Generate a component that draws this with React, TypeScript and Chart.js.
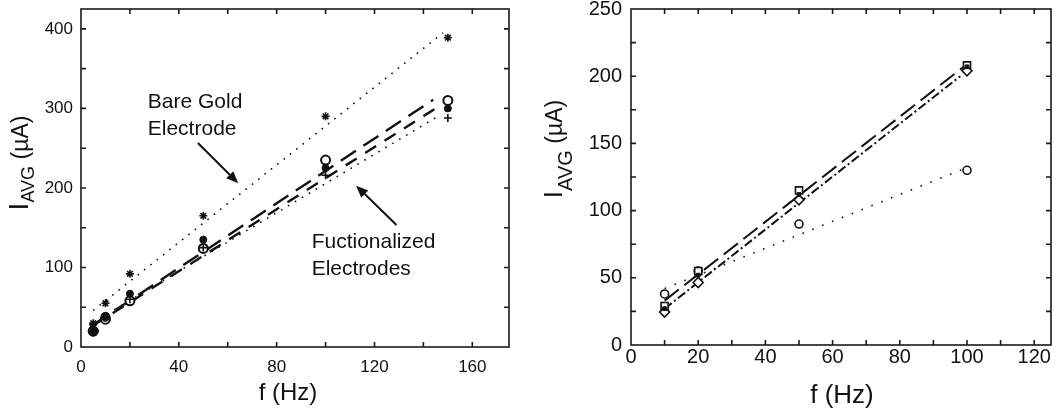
import { useEffect, useRef } from "react";
import { Chart, registerables } from "chart.js";

Chart.register(...registerables);

// ---------- Left panel data ----------
const leftFreq = [5, 10, 20, 50, 100, 150];
const bareGold = [30, 55, 92, 165, 290, 389];
const funcOpen = [20, 35, 58, 124, 235, 310];
const funcFilled = [20, 38, 67, 135, 225, 300];
const funcPlus = [28, 38, 60, 125, 216, 288];

const bareFitX = [5, 148];
const bareFitY = [46, 395];
const funcFitAX = [5, 144];
const funcFitAY = [28, 311];
const funcFitBX = [5, 146];
const funcFitBY = [27, 302];
const funcFitCX = [5, 147];
const funcFitCY = [31, 292];

const leftXLabels = [0, 40, 80, 120, 160];
const leftYLabels = [0, 100, 200, 300, 400];

// ---------- Right panel data ----------
const rightFreq = [10, 20, 50, 100];
const rSquare = [29, 55, 115, 208];
const rDiamond = [24.5, 46.5, 108, 204];
const rCircle = [38, 55, 90, 130];
const rFilled = [27, 52, 112, 207];

const rFitAX = [10, 99];
const rFitAY = [33, 207];
const rFitBX = [10, 98];
const rFitBY = [27, 200];
const rFitCX = [10, 99];
const rFitCY = [42, 131];

const rightXLabels = [0, 20, 40, 60, 80, 100, 120];
const rightYLabels = [0, 50, 100, 150, 200, 250];

// annotation layout (data units of left panel)
const leftTexts = [
  { text: "Bare Gold", x: 27.3, y: 300.5 },
  { text: "Electrode", x: 27.3, y: 266.5 },
  { text: "Fuctionalized", x: 94.3, y: 124.5 },
  { text: "Electrodes", x: 94.3, y: 90.5 },
];
const leftArrows = [
  { x1: 47.8, y1: 256.6, x2: 64.3, y2: 206.0 },
  { x1: 129.0, y1: 153.5, x2: 112.5, y2: 202.8 },
];

const FAMILY = "'Liberation Sans', Arial, Helvetica, sans-serif";
const INK = "#111";

const pts = (xs: number[], ys: number[]) => xs.map((x, i) => ({ x, y: ys[i] }));

function stepValues(last: number, step: number) {
  const out: number[] = [];
  for (let v = 0; v <= last + 1e-9; v += step) out.push(v);
  return out;
}

function drawYTitle(
  ctx: CanvasRenderingContext2D,
  baseX: number,
  centerY: number,
  s: { i: number; sub: number; main: number; shift: number }
) {
  ctx.save();
  ctx.translate(baseX, centerY);
  ctx.rotate(-Math.PI / 2);
  ctx.fillStyle = INK;
  ctx.textBaseline = "alphabetic";
  ctx.textAlign = "left";
  const fI = `${s.i}px ${FAMILY}`;
  const fS = `${s.sub}px ${FAMILY}`;
  const fM = `${s.main}px ${FAMILY}`;
  ctx.font = fI;
  const wI = ctx.measureText("I").width;
  ctx.font = fS;
  const wS = ctx.measureText("AVG").width;
  ctx.font = fM;
  const wM = ctx.measureText(" (µA)").width;
  let x = -(wI + wS + wM) / 2;
  ctx.font = fI;
  ctx.fillText("I", x, 0);
  x += wI;
  ctx.font = fS;
  ctx.fillText("AVG", x, s.shift);
  x += wS;
  ctx.font = fM;
  ctx.fillText(" (µA)", x, 0);
  ctx.restore();
}

function makeFramePlugin(cfg: {
  frameWidth: number;
  tickLen: number;
  yTitle: { baseX: number; centerY: number; i: number; sub: number; main: number; shift: number };
  xTitle: { cx: number; baseY: number; size: number };
  extra?: (chart: any) => void;
}) {
  return {
    id: "frameAndTitles",
    afterDatasetsDraw(chart: any) {
      const { ctx, chartArea: a, scales } = chart;
      const xs = scales.x;
      const ys = scales.y;
      ctx.save();
      ctx.strokeStyle = "#1a1a1a";
      ctx.lineWidth = cfg.frameWidth;
      ctx.strokeRect(a.left, a.top, a.right - a.left, a.bottom - a.top);
      ctx.beginPath();
      xs.ticks.forEach((t: any) => {
        const px = xs.getPixelForValue(t.value);
        if (px <= a.left + 1 || px >= a.right - 1) return;
        ctx.moveTo(px, a.bottom);
        ctx.lineTo(px, a.bottom - cfg.tickLen);
        ctx.moveTo(px, a.top);
        ctx.lineTo(px, a.top + cfg.tickLen);
      });
      ys.ticks.forEach((t: any) => {
        const py = ys.getPixelForValue(t.value);
        if (py <= a.top + 1 || py >= a.bottom - 1) return;
        ctx.moveTo(a.left, py);
        ctx.lineTo(a.left + cfg.tickLen, py);
        ctx.moveTo(a.right, py);
        ctx.lineTo(a.right - cfg.tickLen, py);
      });
      ctx.stroke();
      ctx.restore();

      drawYTitle(ctx, cfg.yTitle.baseX, cfg.yTitle.centerY, cfg.yTitle);

      ctx.save();
      ctx.fillStyle = INK;
      ctx.font = `${cfg.xTitle.size}px ${FAMILY}`;
      ctx.textAlign = "center";
      ctx.textBaseline = "alphabetic";
      ctx.fillText("f (Hz)", cfg.xTitle.cx, cfg.xTitle.baseY);
      ctx.restore();

      if (cfg.extra) cfg.extra(chart);
    },
  };
}

function drawLeftAnnotations(chart: any) {
  const { ctx, scales } = chart;
  const xs = scales.x;
  const ys = scales.y;
  ctx.save();
  ctx.fillStyle = INK;
  ctx.font = `21px ${FAMILY}`;
  ctx.textAlign = "left";
  ctx.textBaseline = "alphabetic";
  leftTexts.forEach((t) => {
    ctx.fillText(t.text, xs.getPixelForValue(t.x), ys.getPixelForValue(t.y));
  });
  ctx.strokeStyle = INK;
  ctx.lineWidth = 2;
  leftArrows.forEach((ar) => {
    const x1 = xs.getPixelForValue(ar.x1);
    const y1 = ys.getPixelForValue(ar.y1);
    const x2 = xs.getPixelForValue(ar.x2);
    const y2 = ys.getPixelForValue(ar.y2);
    const ang = Math.atan2(y2 - y1, x2 - x1);
    const hl = 12;
    const hw = 5;
    const bx = x2 - hl * Math.cos(ang);
    const by = y2 - hl * Math.sin(ang);
    ctx.beginPath();
    ctx.moveTo(x1, y1);
    ctx.lineTo(bx, by);
    ctx.stroke();
    ctx.beginPath();
    ctx.moveTo(x2, y2);
    ctx.lineTo(bx + hw * Math.sin(ang), by - hw * Math.cos(ang));
    ctx.lineTo(bx - hw * Math.sin(ang), by + hw * Math.cos(ang));
    ctx.closePath();
    ctx.fill();
  });
  ctx.restore();
}

function axisOpts(
  min: number,
  max: number,
  tickValues: number[],
  labels: number[],
  size: number,
  padding: number,
  fit: (s: any) => void
) {
  return {
    type: "linear" as const,
    min,
    max,
    afterBuildTicks: (s: any) => {
      s.ticks = tickValues.map((v) => ({ value: v }));
    },
    afterFit: fit,
    grid: { display: false, drawTicks: false },
    border: { display: false },
    ticks: {
      autoSkip: false,
      maxRotation: 0,
      padding,
      color: INK,
      font: { family: FAMILY, size },
      callback: (v: any) => (labels.includes(Number(v)) ? String(v) : ""),
    },
  };
}

function lineDs(xs: number[], ys: number[], dash: number[], width: number) {
  return {
    data: pts(xs, ys),
    showLine: true,
    borderColor: INK,
    borderWidth: width,
    borderDash: dash,
    pointRadius: 0,
    fill: false,
    order: 10,
  };
}

function LeftChart() {
  const ref = useRef<HTMLCanvasElement | null>(null);
  useEffect(() => {
    if (!ref.current) return;
    const chart = new Chart(ref.current, {
      type: "scatter",
      data: {
        datasets: [
          lineDs(bareFitX, bareFitY, [1.6, 6.5], 1.6),
          lineDs(funcFitAX, funcFitAY, [18, 9], 2.4),
          lineDs(funcFitBX, funcFitBY, [13, 10], 2.4),
          lineDs(funcFitCX, funcFitCY, [1.6, 6.5], 1.6),
          {
            data: pts(leftFreq, funcOpen),
            pointStyle: "circle",
            pointRadius: 4.5,
            borderWidth: 2,
            borderColor: INK,
            backgroundColor: "#fff",
            order: 5,
          },
          {
            data: pts(leftFreq, funcFilled),
            pointStyle: "circle",
            pointRadius: [5, 4.5, 3.5, 3.5, 3.5, 3.5],
            borderWidth: 1,
            borderColor: INK,
            backgroundColor: INK,
            order: 3,
          },
          {
            data: pts(leftFreq, funcPlus),
            pointStyle: "cross",
            pointRadius: 4,
            borderWidth: 1.6,
            borderColor: INK,
            order: 2,
          },
          {
            data: pts(leftFreq, bareGold),
            pointStyle: "star",
            pointRadius: 4,
            borderWidth: 1.6,
            borderColor: INK,
            order: 1,
          },
        ] as any,
      },
      options: {
        responsive: false,
        animation: false,
        events: [],
        layout: { padding: { top: 9, right: 21, left: 0, bottom: 0 } },
        plugins: { legend: { display: false }, tooltip: { enabled: false } },
        scales: {
          x: axisOpts(0, 175, stepValues(160, 20), leftXLabels, 17, 10, (s: any) => {
            s.height = 68;
            s.paddingLeft = 0;
            s.paddingRight = 0;
          }),
          y: axisOpts(0, 425, stepValues(400, 50), leftYLabels, 17, 8, (s: any) => {
            s.width = 81;
            s.paddingTop = 0;
            s.paddingBottom = 0;
          }),
        },
      } as any,
      plugins: [
        makeFramePlugin({
          frameWidth: 1.6,
          tickLen: 5,
          yTitle: { baseX: 28, centerY: 163, i: 28, sub: 18, main: 23, shift: 6 },
          xTitle: { cx: 288, baseY: 400, size: 24 },
          extra: drawLeftAnnotations,
        }),
      ],
    });
    return () => chart.destroy();
  }, []);
  return <canvas ref={ref} width={530} height={415} style={{ display: "block" }} />;
}

function RightChart() {
  const ref = useRef<HTMLCanvasElement | null>(null);
  useEffect(() => {
    if (!ref.current) return;
    const chart = new Chart(ref.current, {
      type: "scatter",
      data: {
        datasets: [
          lineDs(rFitAX, rFitAY, [18, 7], 2),
          lineDs(rFitBX, rFitBY, [9, 3, 2, 3], 2),
          lineDs(rFitCX, rFitCY, [1.6, 9], 1.6),
          {
            data: pts(rightFreq, rCircle),
            pointStyle: "circle",
            pointRadius: 4,
            borderWidth: 1.6,
            borderColor: INK,
            backgroundColor: "#fff",
            order: 6,
          },
          {
            data: pts(rightFreq, rSquare),
            pointStyle: "rect",
            pointRadius: 5,
            borderWidth: 1.6,
            borderColor: INK,
            backgroundColor: "#fff",
            order: 5,
          },
          {
            data: pts(rightFreq, rDiamond),
            pointStyle: "rectRot",
            pointRadius: 5,
            borderWidth: 1.6,
            borderColor: INK,
            backgroundColor: "#fff",
            order: 4,
          },
          {
            data: pts(rightFreq, rFilled),
            pointStyle: "rect",
            pointRadius: 2.6,
            borderWidth: 1,
            borderColor: INK,
            backgroundColor: INK,
            order: 2,
          },
        ] as any,
      },
      options: {
        responsive: false,
        animation: false,
        events: [],
        layout: { padding: { top: 9, right: 11, left: 0, bottom: 0 } },
        plugins: { legend: { display: false }, tooltip: { enabled: false } },
        scales: {
          x: axisOpts(0, 125, stepValues(120, 10), rightXLabels, 20, 0, (s: any) => {
            s.height = 70;
            s.paddingLeft = 0;
            s.paddingRight = 0;
          }),
          y: axisOpts(0, 250, stepValues(250, 25), rightYLabels, 20, 9, (s: any) => {
            s.width = 101;
            s.paddingTop = 0;
            s.paddingBottom = 0;
          }),
        },
      } as any,
      plugins: [
        makeFramePlugin({
          frameWidth: 1.6,
          tickLen: 5,
          yTitle: { baseX: 32, centerY: 149, i: 26, sub: 20, main: 23, shift: 10 },
          xTitle: { cx: 312, baseY: 403, size: 26 },
        }),
      ],
    });
    return () => chart.destroy();
  }, []);
  return <canvas ref={ref} width={532} height={415} style={{ display: "block" }} />;
}

export default function App() {
  return (
    <div
      style={{
        position: "fixed",
        left: 0,
        top: 0,
        width: 1062,
        height: 415,
        background: "#fff",
        display: "flex",
        flexDirection: "row",
      }}
    >
      <LeftChart />
      <RightChart />
    </div>
  );
}
